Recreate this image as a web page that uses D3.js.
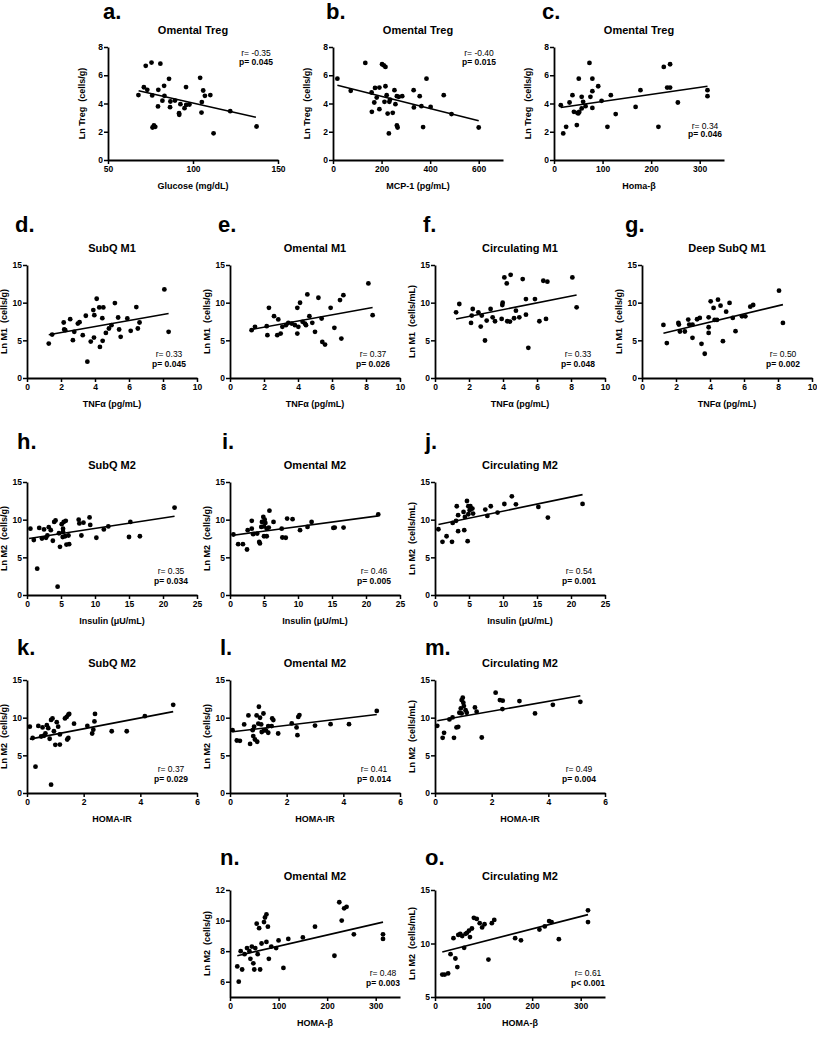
<!DOCTYPE html>
<html><head><meta charset="utf-8">
<script src="https://cdn.jsdelivr.net/npm/d3@7"></script>
<style>
body{margin:0;background:#fff;}
svg{display:block;font-family:"Liberation Sans",Arial,sans-serif;}
</style></head><body>
<svg id="chart" width="817" height="1050"></svg>
<script>
// ---------- labels ----------
const letters = ["a.","b.","c.","d.","e.","f.","g.","h.","i.","j.","k.","l.","m.","n.","o."];
const titles = ["Omental Treg","Omental Treg","Omental Treg","SubQ M1","Omental M1","Circulating M1","Deep SubQ M1",
  "SubQ M2","Omental M2","Circulating M2","SubQ M2","Omental M2","Circulating M2","Omental M2","Circulating M2"];
const xLabels = ["Glucose (mg/dL)","MCP-1 (pg/mL)","Homa-\u03b2","TNF\u03b1 (pg/mL)","TNF\u03b1 (pg/mL)","TNF\u03b1 (pg/mL)","TNF\u03b1 (pg/mL)",
  "Insulin (\u03bcU/mL)","Insulin (\u03bcU/mL)","Insulin (\u03bcU/mL)","HOMA-IR","HOMA-IR","HOMA-IR","HOMA-\u03b2","HOMA-\u03b2"];
const yLabels = ["Ln Treg\u00a0 (cells/g)","Ln Treg\u00a0 (cells/g)","Ln Treg\u00a0 (cells/g)","Ln M1\u00a0 (cells/g)","Ln M1\u00a0 (cells/g)","Ln M1\u00a0 (cells/mL)","Ln M1\u00a0 (cells/g)",
  "Ln M2\u00a0 (cells/g)","Ln M2\u00a0 (cells/g)","Ln M2\u00a0 (cells/mL)","Ln M2\u00a0 (cells/g)","Ln M2\u00a0 (cells/g)","Ln M2\u00a0 (cells/mL)","Ln M2\u00a0 (cells/g)","Ln M2\u00a0 (cells/mL)"];
const rTexts = ["r= -0.35","r= -0.40","r= 0.34","r= 0.33","r= 0.37","r= 0.33","r= 0.50","r= 0.35","r= 0.46","r= 0.54","r= 0.37","r= 0.41","r= 0.49","r= 0.48","r= 0.61"];
const pTexts = ["p= 0.045","p= 0.015","p= 0.046","p= 0.045","p= 0.026","p= 0.048","p= 0.002","p= 0.034","p= 0.005","p= 0.001","p= 0.029","p= 0.014","p= 0.004","p= 0.003","p< 0.001"];

// ---------- axis ticks ----------
const glucoseTicks = [50,100,150];
const mcpTicks = [0,200,400,600];
const homaBTicks = [0,100,200,300];
const tnfTicks = [0,2,4,6,8,10];
const insulinTicks = [0,5,10,15,20,25];
const homaIRTicks = [0,2,4,6];
const tregTicks = [0,2,4,6,8];
const m15Ticks = [0,5,10,15];
const omM2nTicks = [6,8,10,12];
const circM2oTicks = [5,10,15];

// ---------- data ----------
const ptsA = [[67.9,4.6],[71.1,5.15],[72.2,6.67],[73.1,4.97],[75.6,6.9],[76,4.57],[76.2,2.3],[77,2.45],[77.8,2.35],[79.6,4.97],[79.4,3.79],[80.8,6.82],[82,4.2],[83,5.25],[83.2,4.54],[85.9,5.75],[86.5,3.74],[86.7,4.14],[89.4,4.21],[91.8,3.31],[91.9,3.2],[92.6,3.95],[95,3.67],[95.9,5.16],[96,3.9],[97.9,3.93],[104.2,5.82],[105.2,4.1],[105,3.36],[106,4.92],[107,4.54],[110.2,4.6],[112.1,1.89],[121.9,3.46],[137.4,2.37]];
const fitA = [[68,4.9],[137,3.02]];
const ptsB = [[18,5.76],[73,4.9],[133,6.87],[159,4.78],[160,3.41],[170,4.07],[173,5.1],[180,4.42],[191,5.13],[191,3.6],[202,6.78],[209,6.7],[216,6.59],[212,4.12],[216,5.22],[221,4.59],[225,3.29],[230,1.88],[232,4.12],[235,4.28],[246,3.34],[253,4.94],[257,3.95],[263,4.52],[263,2.45],[266,2.3],[271,4.47],[285,4.52],[332,4.94],[333,3.72],[357,4.52],[364,3.81],[371,2.33],[385,5.76],[402,3.76],[456,4.59],[488,3.25],[600,2.3]];
const fitB = [[18,5.29],[600,2.78]];
const ptsC = [[14,3.88],[19,1.88],[25,2.35],[32,4.07],[38,4.59],[41,3.41],[47,2.47],[48,3.34],[50,3.3],[52,3.4],[51,5.76],[57,4.47],[57,3.65],[60,4.12],[65,3.81],[73,6.87],[75,4.47],[79,5.76],[79,4.87],[79,3.69],[91,5.22],[98,4.19],[110,2.35],[117,4.59],[127,3.25],[168,3.76],[178,4.94],[215,2.35],[226,6.59],[233,5.13],[239,6.78],[239,5.13],[255,4.07],[316,4.94],[316,4.52]];
const fitC = [[14,3.72],[316,5.22]];
const ptsD = [[1.28,4.57],[1.48,5.77],[2.16,7.37],[2.19,6.44],[2.25,6.35],[2.54,7.81],[2.7,5.02],[2.78,6.13],[2.99,7.23],[3.09,7.41],[3.28,5.68],[3.46,8.26],[3.55,2.17],[3.75,4.84],[3.9,9.01],[3.94,5.37],[3.96,8.34],[4.1,10.52],[4.25,9.37],[4.29,4.13],[4.45,4.93],[4.49,9.37],[4.43,7.94],[4.64,5.99],[4.82,6.57],[4.97,7.01],[5.17,9.94],[5.36,8.03],[5.42,6.44],[5.51,5.46],[5.9,7.9],[6.1,6.26],[6.43,9.41],[6.52,6.57],[6.62,7.37],[8.08,11.76],[8.33,6.13]];
const fitD = [[1.28,5.75],[8.33,8.57]];
const ptsE = [[1.27,6.35],[1.47,6.79],[2.16,6.88],[2.2,5.68],[2.29,9.32],[2.59,8.21],[2.78,5.68],[2.84,7.77],[2.98,5.9],[3.08,6.79],[3.29,7.01],[3.43,7.32],[3.63,7.23],[3.82,7.01],[3.96,5.9],[4.02,6.79],[3.96,9.32],[4.12,9.99],[4.27,7.46],[4.41,7.23],[4.47,7.01],[4.55,11.1],[4.67,8.21],[4.84,7.32],[5,6.13],[5.2,10.65],[5.39,7.9],[5.43,4.79],[5.59,4.44],[5.92,9.32],[6.14,6.66],[6.47,10.34],[6.55,5.24],[6.67,11.0],[8.14,12.56],[8.39,8.34]];
const fitE = [[1.27,6.44],[8.39,9.37]];
const ptsF = [[1.24,8.72],[1.43,9.82],[2.12,7.31],[2.16,8.28],[2.22,9.16],[2.55,8.72],[2.69,6.83],[2.75,8.28],[2.94,4.98],[3.04,7.62],[3.27,9.16],[3.39,8.06],[3.53,7.53],[3.92,7.84],[3.96,9.69],[3.98,10.0],[4.08,13.35],[4.22,12.56],[4.25,7.53],[4.41,7.49],[4.45,13.7],[4.65,7.93],[4.76,8.94],[4.96,8.06],[5.16,13.13],[5.35,8.41],[5.35,10.48],[5.49,4.01],[5.88,10.48],[6.14,7.53],[6.37,12.91],[6.53,7.84],[6.61,12.78],[8.08,13.35],[8.33,9.38]];
const fitF = [[1.24,7.84],[8.33,11.01]];
const ptsG = [[1.26,7.05],[1.46,4.63],[2.14,7.31],[2.17,7.09],[2.23,6.17],[2.52,6.17],[2.72,7.75],[2.78,7.09],[2.97,7.09],[2.97,5.33],[3.24,7.8],[3.4,7.97],[3.5,4.54],[3.69,3.22],[3.92,8.06],[3.92,6.74],[3.92,5.99],[4.04,10.18],[4.21,9.3],[4.27,7.71],[4.41,7.71],[4.47,10.4],[4.62,9.6],[4.76,4.89],[4.95,8.81],[5.15,9.96],[5.34,7.97],[5.5,6.21],[5.88,8.19],[6.08,8.19],[6.37,9.47],[6.54,9.69],[8.06,11.59],[8.29,7.31]];
const fitG = [[1.26,5.95],[8.29,9.74]];
const ptsH = [[0.5,8.8],[1.0,7.3],[1.5,3.5],[1.8,8.9],[2.2,7.5],[2.5,8.7],[2.8,7.6],[3.0,7.9],[3.2,9.0],[3.5,8.6],[3.8,7.2],[4.0,9.7],[4.2,9.9],[4.5,1.1],[4.7,8.2],[4.85,6.4],[5.1,9.4],[5.3,8.8],[5.3,8.4],[5.25,7.7],[5.4,9.7],[5.6,7.8],[5.7,9.84],[5.8,6.7],[6.1,7.9],[6.2,6.75],[7.6,10.0],[7.7,9.5],[8.0,7.9],[8.3,9.6],[9.2,10.3],[9.3,9.3],[10.2,7.6],[11.3,8.7],[11.96,9.1],[15.0,7.7],[15.2,9.7],[16.6,7.8],[21.7,11.6]];
const fitH = [[0.3,7.5],[21.7,10.45]];
const ptsI = [[0.5,8.03],[1.2,6.75],[1.9,6.75],[2.5,6.04],[2.6,8.6],[3.2,8.8],[3.2,9.84],[3.4,8.07],[4.0,8.16],[4.3,7.05],[4.4,6.84],[4.6,9.04],[4.7,9.7],[4.9,10.37],[5.1,10.0],[5.0,9.1],[5.2,9.57],[5.4,8.8],[5.0,7.8],[5.4,7.8],[5.8,11.2],[5.7,8.95],[6.4,9.7],[7.6,8.8],[7.7,7.63],[8.2,7.6],[8.4,10.15],[9.2,10.06],[10.3,8.6],[11.4,9.04],[12.0,9.7],[15.2,8.9],[15.4,8.95],[16.7,8.95],[21.8,10.7]];
const fitI = [[0.5,7.94],[21.8,10.5]];
const ptsJ = [[0.5,8.73],[1.1,7.06],[1.7,7.8],[2.5,7.06],[2.6,9.57],[3.1,9.84],[3.2,11.78],[3.4,10.59],[3.4,8.47],[4.2,11.03],[4.3,8.6],[4.4,10.37],[4.7,12.48],[4.8,7.15],[4.9,11.78],[4.9,10.72],[5.1,11.25],[5.2,11.78],[5.5,11.47],[5.6,10.81],[7.4,11.34],[7.7,10.5],[8.2,11.78],[9.2,10.94],[10.2,12.08],[11.3,13.1],[11.9,12.04],[15.2,11.69],[16.6,10.28],[21.7,12.09]];
const fitJ = [[0.5,9.35],[21.7,13.32]];
const ptsK = [[0.1,8.8],[0.2,7.3],[0.3,3.5],[0.4,8.9],[0.5,7.5],[0.55,8.7],[0.6,7.6],[0.65,7.9],[0.7,9.0],[0.75,8.6],[0.8,7.2],[0.85,9.7],[0.9,9.9],[0.85,1.1],[0.95,8.2],[1.0,6.4],[1.05,9.4],[1.1,8.8],[1.16,7.77],[1.16,6.43],[1.34,9.9],[1.4,10.1],[1.46,10.4],[1.49,10.5],[1.42,7.1],[1.46,7.3],[1.66,9.2],[2.13,8.9],[2.38,9.5],[2.4,10.5],[2.34,8.4],[2.3,7.9],[2.99,8.2],[3.52,8.2],[4.16,10.2],[5.16,11.7]];
const fitK = [[0.1,7.15],[5.16,10.8]];
const ptsL = [[0.09,8.34],[0.24,6.97],[0.35,6.93],[0.5,9.1],[0.65,10.3],[0.71,6.52],[0.8,8.34],[0.85,8.8],[0.82,7.55],[0.88,7.1],[0.96,6.8],[0.94,10.3],[1.0,9.2],[1.02,11.45],[1.06,9.99],[1.1,9.1],[1.12,8.1],[1.18,10.55],[1.2,8.3],[1.27,8.3],[1.35,8.0],[1.49,9.9],[1.53,9.68],[1.35,8.88],[1.47,8.88],[1.7,7.9],[2.18,9.23],[2.35,8.7],[2.41,10.1],[2.45,10.34],[2.38,7.68],[3.0,8.95],[3.55,9.14],[4.2,9.14],[5.18,10.9]];
const fitL = [[0.09,8.12],[5.18,10.43]];
const ptsM = [[0.08,8.92],[0.27,7.32],[0.32,7.99],[0.51,9.76],[0.62,10.03],[0.67,7.32],[0.76,8.7],[0.82,8.79],[0.86,10.65],[0.91,11.23],[0.94,12.34],[0.98,12.65],[1.0,11.98],[1.02,11.54],[0.94,10.56],[1.08,11.0],[1.12,10.65],[1.41,11.36],[1.47,10.79],[1.65,7.37],[2.14,13.32],[2.29,12.34],[2.39,12.25],[2.38,11.14],[2.98,12.2],[3.53,10.56],[4.16,11.7],[5.13,12.1]];
const fitM = [[0.08,9.6],[5.13,12.9]];
const ptsN = [[15,7.0],[18,6.0],[22,8.0],[25,6.8],[30,7.8],[35,8.2],[40,8.0],[42,7.5],[45,8.3],[48,7.2],[50,6.8],[52,8.2],[55,9.8],[57,7.8],[60,9.5],[62,6.8],[65,8.5],[70,9.9],[72,10.2],[75,10.4],[75,8.6],[78,9.6],[80,7.5],[85,8.3],[95,8.2],[100,8.7],[110,6.9],[120,8.8],[150,8.9],[175,9.6],[215,7.7],[225,11.2],[230,10.0],[235,10.8],[240,10.9],[255,9.1],[315,8.8],[315,9.1]];
const fitN = [[15,7.7],[315,9.9]];
const ptsO = [[15,7.1],[20,7.1],[27,7.2],[32,9.0],[38,10.5],[42,8.6],[46,7.8],[48,10.8],[52,10.9],[56,10.7],[60,9.6],[63,10.9],[66,11.0],[70,11.2],[72,10.6],[76,11.4],[80,12.4],[86,12.3],[92,11.9],[97,11.5],[102,11.8],[110,8.5],[117,11.9],[122,12.2],[165,10.5],[177,10.3],[215,11.3],[226,11.6],[235,12.1],[240,12.0],[255,10.4],[315,12.0],[315,13.1]];
const fitO = [[15,9.2],[315,12.7]];

// ---------- panel table (data + layout) ----------
const rows = [
  {top:47,bottom:160,letterDy:28,titleDy:13},
  {top:265,bottom:378,letterDy:33,titleDy:13},
  {top:482,bottom:595,letterDy:33,titleDy:13},
  {top:680,bottom:793,letterDy:25,titleDy:13},
  {top:890,bottom:997,letterDy:25,titleDy:10}
];
const panels = [
 {pts:ptsA,fit:fitA,xd:[50,150],xt:glucoseTicks,yd:[0,8],yt:tregTicks,row:0,left:108,stat:"top",sx:-22,lx:-5},
 {pts:ptsB,fit:fitB,xd:[0,700],xt:mcpTicks,yd:[0,8],yt:tregTicks,row:0,left:333,stat:"top",sx:-24,lx:-7},
 {pts:ptsC,fit:fitC,xd:[0,350],xt:homaBTicks,yd:[0,8],yt:tregTicks,row:0,left:554,stat:"bottomHigh",sx:-19,lx:-12},
 {pts:ptsD,fit:fitD,xd:[0,10],xt:tnfTicks,yd:[0,15],yt:m15Ticks,row:1,left:27,stat:"bottom",sx:-28,lx:-12},
 {pts:ptsE,fit:fitE,xd:[0,10],xt:tnfTicks,yd:[0,15],yt:m15Ticks,row:1,left:230,stat:"bottom",sx:-27,lx:-12},
 {pts:ptsF,fit:fitF,xd:[0,10],xt:tnfTicks,yd:[0,15],yt:m15Ticks,row:1,left:435,stat:"bottom",sx:-27,lx:-12},
 {pts:ptsG,fit:fitG,xd:[0,10],xt:tnfTicks,yd:[0,15],yt:m15Ticks,row:1,left:642,stat:"bottom",sx:-29,lx:-17},
 {pts:ptsH,fit:fitH,xd:[0,25],xt:insulinTicks,yd:[0,15],yt:m15Ticks,row:2,left:27,stat:"bottom",sx:-26,lx:-10},
 {pts:ptsI,fit:fitI,xd:[0,25],xt:insulinTicks,yd:[0,15],yt:m15Ticks,row:2,left:230,stat:"bottom",sx:-26,lx:-8},
 {pts:ptsJ,fit:fitJ,xd:[0,25],xt:insulinTicks,yd:[0,15],yt:m15Ticks,row:2,left:435,stat:"bottom",sx:-26,lx:-10},
 {pts:ptsK,fit:fitK,xd:[0,6],xt:homaIRTicks,yd:[0,15],yt:m15Ticks,row:3,left:27,stat:"bottom",sx:-26,lx:-10},
 {pts:ptsL,fit:fitL,xd:[0,6],xt:homaIRTicks,yd:[0,15],yt:m15Ticks,row:3,left:230,stat:"bottom",sx:-26,lx:-10},
 {pts:ptsM,fit:fitM,xd:[0,6],xt:homaIRTicks,yd:[0,15],yt:m15Ticks,row:3,left:435,stat:"bottom",sx:-26,lx:-10},
 {pts:ptsN,fit:fitN,xd:[0,350],xt:homaBTicks,yd:[5,12],yt:omM2nTicks,row:4,left:230,stat:"bottom",sx:-17,lx:-10},
 {pts:ptsO,fit:fitO,xd:[0,350],xt:homaBTicks,yd:[5,15],yt:circM2oTicks,row:4,left:435,stat:"bottom",sx:-17,lx:-10}
];

const W = 170;
const fmt = d3.format("d");
const svg = d3.select("#chart");
svg.append("rect").attr("width",817).attr("height",1050).attr("fill","#fff");

panels.forEach((P,i) => {
  const R = rows[P.row];
  const T = R.top, B = R.bottom, L = P.left;
  const x = d3.scaleLinear().domain(P.xd).range([L, L+W]);
  const y = d3.scaleLinear().domain(P.yd).range([B, T]);
  const g = svg.append("g");

  const xa = g.append("g").attr("transform",`translate(0,${B})`)
    .call(d3.axisBottom(x).tickValues(P.xt).tickFormat(fmt).tickSize(4).tickSizeOuter(0).tickPadding(2));
  const ya = g.append("g").attr("transform",`translate(${L},0)`)
    .call(d3.axisLeft(y).tickValues(P.yt).tickFormat(fmt).tickSize(4).tickSizeOuter(0).tickPadding(1));
  [xa,ya].forEach(a => {
    a.select(".domain").attr("stroke","#000").attr("stroke-width",1.8);
    a.selectAll(".tick line").attr("stroke","#000").attr("stroke-width",1.5);
    a.selectAll(".tick text").attr("fill","#000")
      .style("font-size","8.5px").style("font-weight","bold")
      .style("font-family","'Liberation Sans',Arial,sans-serif");
  });

  // fit line
  g.append("line")
    .attr("x1",x(P.fit[0][0])).attr("y1",y(P.fit[0][1]))
    .attr("x2",x(P.fit[1][0])).attr("y2",y(P.fit[1][1]))
    .attr("stroke","#000").attr("stroke-width",1.6);

  // points
  g.selectAll("circle.pt").data(P.pts).enter().append("circle")
    .attr("cx",d=>x(d[0])).attr("cy",d=>y(d[1])).attr("r",2.4).attr("fill","#000");

  // title
  g.append("text").attr("x",L+W/2).attr("y",T-R.titleDy).attr("text-anchor","middle")
    .style("font-size","11px").style("font-weight","bold").text(titles[i]);
  // letter
  g.append("text").attr("x",L+P.lx).attr("y",T-R.letterDy)
    .style("font-size","22px").style("font-weight","bold").text(letters[i]);
  // x label
  g.append("text").attr("x",L+W/2).attr("y",B+29).attr("text-anchor","middle")
    .style("font-size","9px").style("font-weight","bold").text(xLabels[i]);
  // y label
  g.append("text").attr("transform",`translate(${L-(P.row===0?23:20)},${(T+B)/2}) rotate(-90)`)
    .attr("text-anchor","middle").style("font-size","9px").style("font-weight","bold").text(yLabels[i]);

  // stats
  let ry, py;
  if (P.stat==="top") { ry = T+9; py = T+18; }
  else if (P.stat==="bottomHigh") { ry = B-31; py = B-23; }
  else { ry = B-21; py = B-11; }
  const sx = L+W+P.sx;
  g.append("text").attr("x",sx).attr("y",ry).attr("text-anchor","middle")
    .style("font-size","8.5px").text(rTexts[i]);
  g.append("text").attr("x",sx).attr("y",py).attr("text-anchor","middle")
    .style("font-size","8.5px").style("font-weight","bold").text(pTexts[i]);
});
</script>
</body></html>
